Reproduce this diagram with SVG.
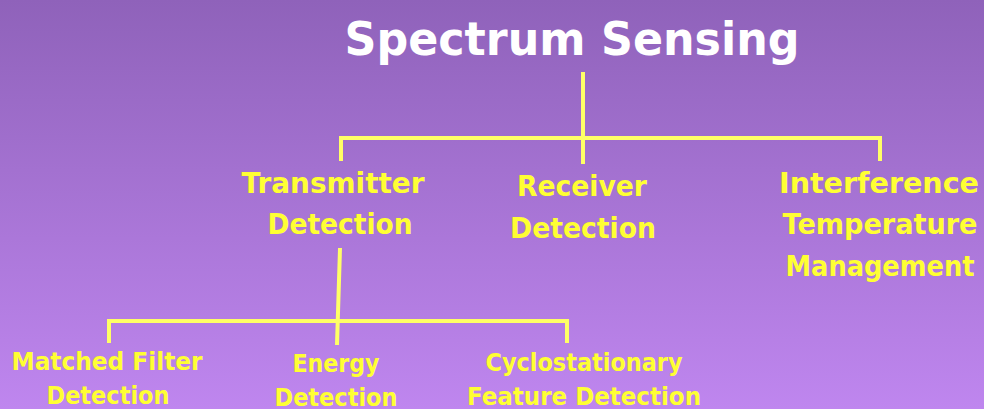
<svg xmlns="http://www.w3.org/2000/svg" width="984" height="409" viewBox="0 0 984 409">
<defs>
<linearGradient id="bg" x1="0" y1="0" x2="0" y2="1">
<stop offset="0" stop-color="#8F62BA"/>
<stop offset="1" stop-color="#BF86EF"/>
</linearGradient>
<style>
.t{font-family:"DejaVu Sans","Liberation Sans",sans-serif;font-weight:bold;text-anchor:middle}
.title{fill:#FFFFFF;font-size:46px}
.l1{fill:#FFFF33;font-size:29px}
.l2{fill:#FFFF33;font-size:25px}
.c{stroke:#FFFF66;stroke-width:4;fill:none}
</style>
</defs>
<rect width="984" height="409" fill="url(#bg)"/>
<g id="connectors">
<line class="c" x1="583" y1="72" x2="583" y2="164"/>
<polyline class="c" points="341,161 341,138 880,138 880,161"/>
<line class="c" x1="340" y1="248" x2="337" y2="345"/>
<polyline class="c" points="109,343 109,321 567,321 567,343"/>
</g>
<g id="spectrum-sensing">
<text class="t title" x="572" y="55" textLength="455" lengthAdjust="spacingAndGlyphs">Spectrum Sensing</text>
</g>
<g id="transmitter-detection">
<text class="t l1" x="333" y="193" textLength="183" lengthAdjust="spacingAndGlyphs">Transmitter</text>
<text class="t l1" x="340" y="234" textLength="145" lengthAdjust="spacingAndGlyphs">Detection</text>
</g>
<g id="receiver-detection">
<text class="t l1" x="582" y="196" textLength="130" lengthAdjust="spacingAndGlyphs">Receiver</text>
<text class="t l1" x="583" y="238" textLength="146" lengthAdjust="spacingAndGlyphs">Detection</text>
</g>
<g id="interference-temperature-management">
<text class="t l1" x="879" y="193" textLength="200" lengthAdjust="spacingAndGlyphs">Interference</text>
<text class="t l1" x="880" y="234" textLength="195" lengthAdjust="spacingAndGlyphs">Temperature</text>
<text class="t l1" x="880" y="276" textLength="189" lengthAdjust="spacingAndGlyphs">Management</text>
</g>
<g id="matched-filter-detection">
<text class="t l2" x="107" y="370" textLength="191" lengthAdjust="spacingAndGlyphs">Matched Filter</text>
<text class="t l2" x="108" y="404" textLength="123" lengthAdjust="spacingAndGlyphs">Detection</text>
</g>
<g id="energy-detection">
<text class="t l2" x="336" y="372" textLength="87" lengthAdjust="spacingAndGlyphs">Energy</text>
<text class="t l2" x="336" y="406" textLength="123" lengthAdjust="spacingAndGlyphs">Detection</text>
</g>
<g id="cyclostationary-feature-detection">
<text class="t l2" x="584" y="371" textLength="197" lengthAdjust="spacingAndGlyphs">Cyclostationary</text>
<text class="t l2" x="584" y="405" textLength="234" lengthAdjust="spacingAndGlyphs">Feature Detection</text>
</g>
</svg>
